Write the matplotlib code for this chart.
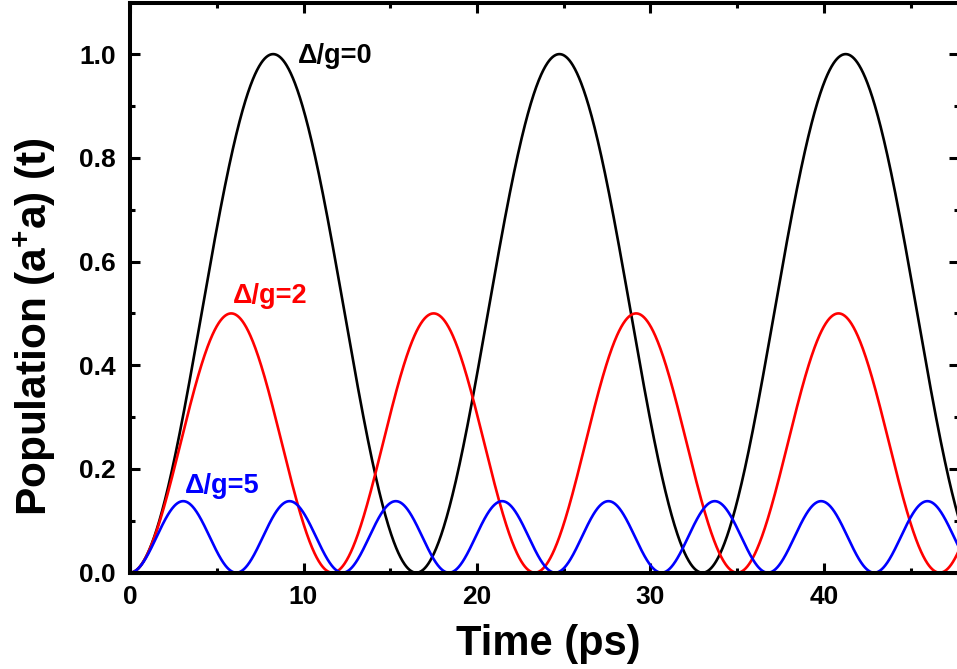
import numpy as np
import matplotlib
matplotlib.use("Agg")
import matplotlib.pyplot as plt
from matplotlib.ticker import MultipleLocator

plt.rcParams['font.family'] = ['Liberation Sans', 'DejaVu Sans']
plt.rcParams['font.weight'] = 'bold'
plt.rcParams['mathtext.fontset'] = 'custom'
plt.rcParams['mathtext.rm'] = 'Liberation Sans:bold'
plt.rcParams['mathtext.bf'] = 'Liberation Sans:bold'
plt.rcParams['mathtext.default'] = 'bf'

# -----------------------------
# data: detuning ratios and the resonant Rabi period
# -----------------------------
detunings = [0, 2, 5]              # Delta / g
line_colors = ['black', 'red', 'blue']
labels = ['Δ/g=0', 'Δ/g=2', 'Δ/g=5']
label_pos = [(9.68, 0.983), (5.94, 0.520), (3.17, 0.154)]   # left, baseline
rabi_period = 16.5                 # ps, period of the resonant oscillation
t_max = 48.0

g = np.pi / rabi_period
t = np.linspace(0, t_max, 2000)

# -----------------------------
# figure / axes
# -----------------------------
W, H = 957, 669
fig = plt.figure(figsize=(W / 100, H / 100), dpi=100)
left, right = 130 / W, 959 / W
bottom, top = (H - 572.7) / H, (H - 3.3) / H
ax = fig.add_axes([left, bottom, right - left, top - bottom])

for d, c in zip(detunings, line_colors):
    # photon population for detuned Jaynes-Cummings oscillation
    half = d * g / 2
    omega = np.sqrt(g**2 + half**2)
    pop = g**2 / omega**2 * np.sin(omega * t)**2
    ax.plot(t, pop, color=c, lw=1.9)

for txt, (x, y), c in zip(labels, label_pos, line_colors):
    ax.text(x, y, txt, color=c, fontsize=19.5, fontweight='bold',
            ha='left', va='baseline')

ax.set_xlim(0, (959 - 130) / 17.35)
ax.set_ylim(0, 1.098)

ax.xaxis.set_major_locator(MultipleLocator(10))
ax.xaxis.set_minor_locator(MultipleLocator(5))
ax.yaxis.set_major_locator(MultipleLocator(0.2))
ax.yaxis.set_minor_locator(MultipleLocator(0.1))
ax.yaxis.set_major_formatter(plt.FuncFormatter(lambda v, p: f'{v:.1f}'))

ax.tick_params(which='both', direction='in', top=True, right=True, width=2.2,
               labelsize=19)
ax.tick_params(axis='y', which='major', pad=10)
ax.tick_params(axis='x', which='major', pad=9)
ax.tick_params(which='major', length=7.5)
ax.tick_params(which='minor', length=3.8)
for s in ax.spines.values():
    s.set_linewidth(2.9)

ax.set_xlabel('Time (ps)', fontsize=30, fontweight='bold', va='baseline')
ax.xaxis.set_label_coords(0.504, -0.1445)
ax.set_ylabel(r'Population (a$^{+}$a) (t)', fontsize=30.5, fontweight='bold',
              va='center')
ax.yaxis.set_label_coords(-0.1146, 0.433)

fig.savefig('out.png', dpi=100)
